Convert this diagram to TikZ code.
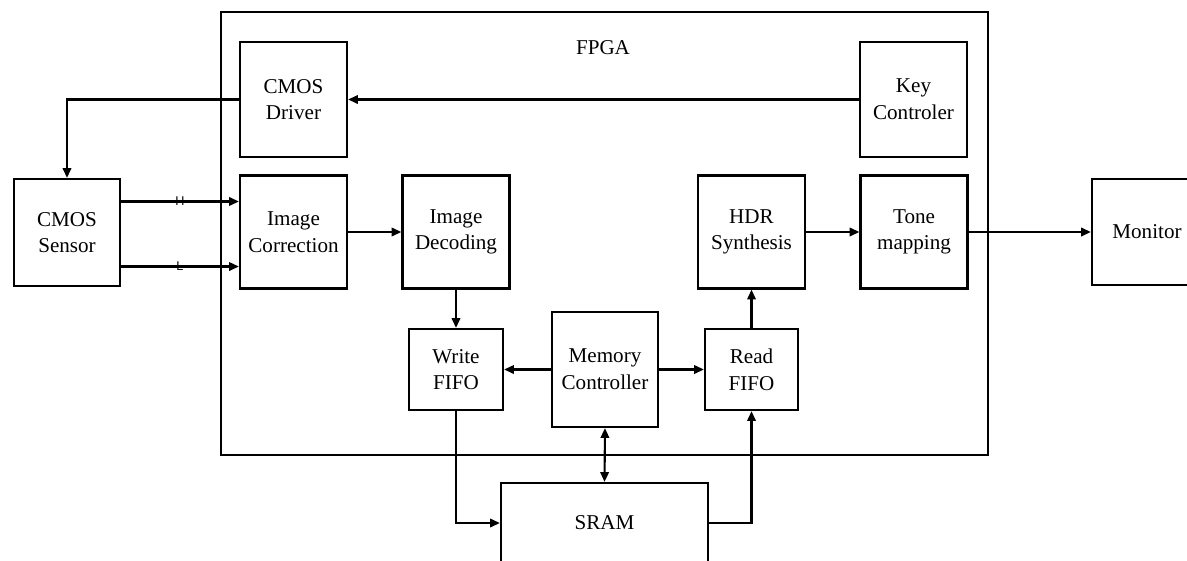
\documentclass[tikz,border=0pt]{standalone}
\usepackage{fontspec}
\setmainfont{Liberation Serif}
\newfontfamily\hlfont{Liberation Sans}
\usetikzlibrary{arrows.meta, positioning}

\begin{document}
\begin{tikzpicture}[x=0.025cm, y=-0.025cm, line width=1.5pt,
    font=\fontsize{15}{19}\selectfont,
    blk/.style={rectangle, draw, align=center, inner sep=0pt, line width=1.5pt},
    arr/.style={-{Triangle[length=7pt, width=6pt]}},
    darr/.style={{Triangle[length=7pt, width=6pt]}-{Triangle[length=7pt, width=6pt]}},
    sig/.style={font=\hlfont\fontsize{9}{9}\selectfont, inner sep=0pt}]
    \clip (0,0) rectangle (1187,560);
    \fill[white] (0,0) rectangle (1187,560);

    % FPGA frame
    \node (fpga) [blk, minimum width=19.175cm, minimum height=11.075cm] at (604.5,233.5) {};
    \node (fpgalabel) at (603,48) {FPGA};

    % Nodes
    \node (driver) [blk, minimum width=2.675cm, minimum height=2.875cm] at (293.5,99.5) {CMOS\\Driver};
    \node (key) [blk, minimum width=2.675cm, minimum height=2.875cm] at (913.5,99.5) {Key\\Controler};
    \node (sensor) [blk, minimum width=2.65cm, minimum height=2.675cm] at (67,232.5) {CMOS\\Sensor};
    \node (corr) [blk, minimum width=2.675cm, minimum height=2.825cm] at (293.5,232) {Image\\Correction};
    \node (dec) [blk, minimum width=2.675cm, minimum height=2.825cm] at (456,232) {Image\\Decoding};
    \node (hdr) [blk, minimum width=2.675cm, minimum height=2.825cm] at (751.5,232) {HDR\\Synthesis};
    \node (tone) [blk, minimum width=2.675cm, minimum height=2.825cm] at (914,232) {Tone\\mapping};
    \node (monitor) [blk, minimum width=2.75cm, minimum height=2.65cm] at (1147,232) {Monitor};
    \node (wfifo) [blk, minimum width=2.35cm, minimum height=2.025cm] at (456,369.5) {Write\\FIFO};
    \node (memctl) [blk, minimum width=2.65cm, minimum height=2.875cm] at (605,369.5) {Memory\\Controller};
    \node (rfifo) [blk, minimum width=2.325cm, minimum height=2.025cm] at (751.5,369.5) {Read\\FIFO};
    \node (sram) [blk, minimum width=5.175cm, minimum height=2cm] at (604.5,523) {SRAM};

    % Connections
    \draw[arr] (key.west) -- (driver.east);
    \draw[arr] (driver.west) -| (sensor.north);
    \draw[arr] ([yshift=0.775cm]sensor.east) -- ([yshift=0.775cm]sensor.east -| corr.west) node[sig, pos=0.5] {H};
    \draw[arr] ([yshift=-0.85cm]sensor.east) -- ([yshift=-0.85cm]sensor.east -| corr.west) node[sig, pos=0.5] {L};
    \draw[arr] (corr.east) -- (dec.west);
    \draw[arr] (dec.south) -- (wfifo.north);
    \draw[arr] (memctl.west) -- (wfifo.east);
    \draw[arr] (memctl.east) -- (rfifo.west);
    \draw[darr] (memctl.south) -- (sram.north);
    \draw[arr] (wfifo.south) |- (sram.west);
    \draw[arr] (sram.east) -| (rfifo.south);
    \draw[arr] (rfifo.north) -- (hdr.south);
    \draw[arr] (hdr.east) -- (tone.west);
    \draw[arr] (tone.east) -- (monitor.west);
\end{tikzpicture}
\end{document}
